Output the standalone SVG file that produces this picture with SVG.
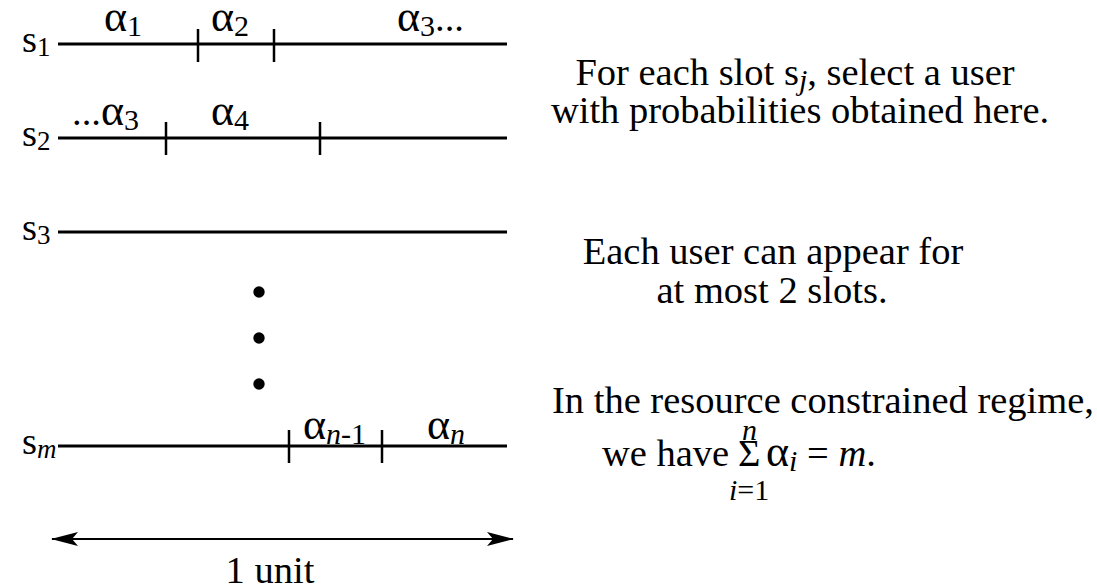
<svg xmlns="http://www.w3.org/2000/svg" width="1097" height="586" viewBox="0 0 1097 586">
<defs>
<style>
text{font-family:"Liberation Serif","Times New Roman",serif;fill:#000}
.t{font-size:38.5px}
.a{font-size:44px}
.sub{font-size:30px}
.lsub{font-size:27px}
.it{font-style:italic}
.line{stroke:#000;stroke-width:3;fill:none}
.tick{stroke:#000;stroke-width:2.5;fill:none}
.dot{fill:#000}
</style>
<marker id="ah" viewBox="0 0 27 14" refX="26" refY="7" markerWidth="27" markerHeight="14" markerUnits="userSpaceOnUse" orient="auto-start-reverse">
<path d="M0,0 L27,7 L0,14 L6,7 Z" fill="#000"/>
</marker>
</defs>
<rect width="1097" height="586" fill="#fff"/>

<g id="slot1">
<text class="t" x="22" y="52">s<tspan class="lsub" dy="4">1</tspan></text>
<line class="line" x1="58" y1="44" x2="507" y2="44"/>
<line class="tick" x1="198" y1="29" x2="198" y2="62"/>
<line class="tick" x1="274" y1="29" x2="274" y2="62"/>
<text class="a" x="104" y="31">α<tspan class="sub" dy="5">1</tspan></text>
<text class="a" x="211" y="31">α<tspan class="sub" dy="5">2</tspan></text>
<text class="a" x="397" y="31">α<tspan class="sub" dy="5">3</tspan><tspan class="t" dy="-5">...</tspan></text>
</g>

<g id="slot2">
<text class="t" x="22" y="146">s<tspan class="lsub" dy="4">2</tspan></text>
<line class="line" x1="58" y1="138" x2="507" y2="138"/>
<line class="tick" x1="166" y1="122" x2="166" y2="155"/>
<line class="tick" x1="320" y1="122" x2="320" y2="155"/>
<text class="a" x="72" y="125"><tspan class="t">...</tspan>α<tspan class="sub" dy="5">3</tspan></text>
<text class="a" x="211" y="125">α<tspan class="sub" dy="5">4</tspan></text>
</g>

<g id="slot3">
<text class="t" x="22" y="240">s<tspan class="lsub" dy="4">3</tspan></text>
<line class="line" x1="58" y1="232" x2="507" y2="232"/>
</g>

<g id="ellipsis">
<circle class="dot" cx="259" cy="292" r="5.7"/>
<circle class="dot" cx="259" cy="338" r="5.7"/>
<circle class="dot" cx="259" cy="384" r="5.7"/>
</g>

<g id="slotm">
<text class="t" x="22" y="454">s<tspan class="lsub it" dy="4">m</tspan></text>
<line class="line" x1="58" y1="446" x2="507" y2="446"/>
<line class="tick" x1="289" y1="430" x2="289" y2="463"/>
<line class="tick" x1="382" y1="430" x2="382" y2="463"/>
<text class="a" x="303" y="439">α<tspan class="sub" dy="5"><tspan class="it">n</tspan>-1</tspan></text>
<text class="a" x="427" y="439">α<tspan class="sub it" dy="5">n</tspan></text>
</g>

<g id="connectors">
<line x1="52" y1="539" x2="513" y2="539" stroke="#000" stroke-width="2" marker-start="url(#ah)" marker-end="url(#ah)"/>
</g>

<g id="unit-label">
<text class="t" x="270" y="583" text-anchor="middle">1 unit</text>
</g>

<g id="note1">
<text class="t" x="795" y="85" text-anchor="middle">For each slot s<tspan class="sub it" dy="5">j</tspan><tspan dy="-5">, select a user</tspan></text>
<text class="t" x="800" y="123" text-anchor="middle">with probabilities obtained here.</text>
</g>

<g id="note2">
<text class="t" x="773" y="264" text-anchor="middle">Each user can appear for</text>
<text class="t" x="772" y="303" text-anchor="middle">at most 2 slots.</text>
</g>

<g id="note3">
<text class="t" x="823" y="413" text-anchor="middle">In the resource constrained regime,</text>
<text class="t" x="602" y="466">we have</text>
<text class="t" x="738" y="466">Σ</text>
<text class="sub it" x="742" y="440">n</text>
<text class="sub" x="729" y="500"><tspan class="it">i</tspan>=1</text>
<text class="a" x="766" y="466">α<tspan class="sub it" dy="5">i</tspan><tspan class="t" dy="-5"> = </tspan><tspan class="t it">m</tspan><tspan class="t">.</tspan></text>
</g>
</svg>
